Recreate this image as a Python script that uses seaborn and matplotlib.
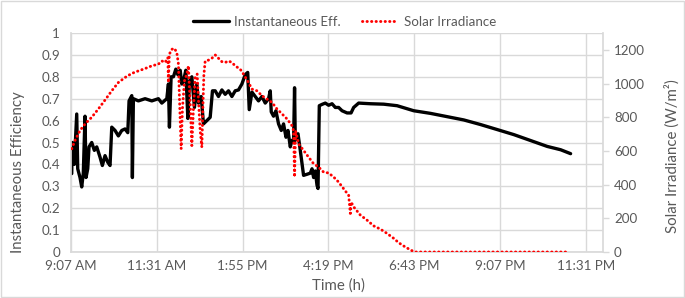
import matplotlib
matplotlib.use("Agg")
import matplotlib.pyplot as plt
import seaborn as sns
import pandas as pd
from matplotlib.patches import Rectangle
from matplotlib.lines import Line2D

# ---- data (time in decimal hours) ----
eff_time = [9.140, 9.156, 9.212, 9.280, 9.308, 9.372, 9.420, 9.464, 9.512, 9.540,
            9.588, 9.624, 9.700, 9.773, 9.840, 9.932, 9.997, 10.072, 10.148, 10.212,
            10.260, 10.352, 10.445, 10.540, 10.632, 10.708, 10.744, 10.820, 10.837, 10.865,
            11.005, 11.192, 11.380, 11.565, 11.660, 11.800, 11.845, 11.873, 11.920, 11.985,
            12.052, 12.108, 12.173, 12.220, 12.265, 12.332, 12.388, 12.433, 12.500, 12.573,
            12.640, 12.685, 12.761, 12.825, 12.920, 13.013, 13.077, 13.153, 13.245, 13.340,
            13.433, 13.525, 13.620, 13.713, 13.805, 13.900, 13.993, 14.063, 14.105, 14.181,
            14.273, 14.365, 14.460, 14.553, 14.645, 14.693, 14.721, 14.785, 14.852, 14.925,
            15.001, 15.065, 15.133, 15.189, 15.253, 15.301, 15.345, 15.373, 15.393, 15.469,
            15.533, 15.625, 15.721, 15.813, 15.861, 15.906, 15.953, 16.001, 16.029, 16.065,
            16.141, 16.233, 16.326, 16.421, 16.513, 16.606, 16.701, 16.841, 16.953, 17.026,
            17.166, 17.493, 17.866, 18.241, 18.706, 19.174, 19.641, 20.106, 20.574, 21.042,
            21.506, 21.974, 22.442, 22.814, 23.094]
eff_value = [0.358, 0.50, 0.40, 0.63, 0.38, 0.34, 0.297, 0.36, 0.62, 0.34,
             0.38, 0.48, 0.50, 0.464, 0.48, 0.433, 0.395, 0.44, 0.41, 0.395,
             0.57, 0.555, 0.53, 0.555, 0.562, 0.545, 0.69, 0.714, 0.34, 0.70,
             0.69, 0.70, 0.69, 0.70, 0.68, 0.70, 0.767, 0.57, 0.80, 0.80,
             0.835, 0.81, 0.83, 0.767, 0.78, 0.83, 0.61, 0.78, 0.80, 0.66,
             0.767, 0.68, 0.71, 0.585, 0.60, 0.615, 0.736, 0.736, 0.71, 0.74,
             0.72, 0.736, 0.71, 0.736, 0.74, 0.767, 0.81, 0.82, 0.65, 0.73,
             0.71, 0.69, 0.71, 0.68, 0.70, 0.736, 0.64, 0.62, 0.645, 0.585,
             0.555, 0.585, 0.524, 0.555, 0.48, 0.51, 0.50, 0.75, 0.51, 0.54,
             0.464, 0.35, 0.355, 0.36, 0.38, 0.34, 0.37, 0.305, 0.29, 0.668,
             0.674, 0.68, 0.67, 0.677, 0.66, 0.66, 0.645, 0.635, 0.635, 0.66,
             0.68, 0.677, 0.675, 0.668, 0.645, 0.633, 0.618, 0.603, 0.582, 0.559,
             0.536, 0.509, 0.482, 0.467, 0.449]

irr_time = [9.140, 9.232, 9.372, 9.512, 9.700, 9.885, 10.072, 10.260, 10.445, 10.632,
            10.820, 11.005, 11.192, 11.380, 11.565, 11.660, 11.752, 11.828, 11.845, 11.870,
            11.940, 12.013, 12.080, 12.125, 12.153, 12.201, 12.237, 12.293, 12.360, 12.405,
            12.453, 12.500, 12.545, 12.593, 12.649, 12.691, 12.733, 12.780, 12.808, 12.836,
            12.873, 12.965, 13.060, 13.153, 13.245, 13.340, 13.433, 13.525, 13.620, 13.713,
            13.853, 13.945, 14.085, 14.181, 14.321, 14.460, 14.600, 14.741, 14.881, 15.021,
            15.161, 15.301, 15.345, 15.373, 15.401, 15.485, 15.625, 15.765, 15.906, 16.046,
            16.186, 16.326, 16.466, 16.606, 16.793, 16.886, 16.933, 16.953, 17.026, 17.213,
            17.401, 17.586, 17.773, 17.961, 18.146, 18.286, 18.446, 18.633, 18.753, 23.066]
irr_value = [613, 662, 721, 760, 800, 849, 902, 957, 1006, 1036,
             1060, 1075, 1089, 1105, 1115, 1134, 1125, 1154, 1006, 1174,
             1203, 1209, 1183, 1115, 918, 613, 850, 1016, 1056, 1105,
             880, 632, 850, 1036, 1056, 880, 720, 622, 850, 1050,
             1134, 1139, 1150, 1170, 1150, 1130, 1125, 1134, 1125, 1105,
             1085, 1056, 1006, 967, 957, 928, 908, 888, 849, 820,
             790, 750, 720, 445, 720, 642, 603, 563, 524, 504,
             474, 469, 445, 415, 362, 337, 229, 297, 268, 219,
             189, 155, 136, 110, 81, 55, 33, 10, 0, 0]

x_ticks = [9.12, 11.52, 13.92, 16.32, 18.72, 21.12, 23.52]
x_tick_labels = ["9:07 AM", "11:31 AM", "1:55 PM", "4:19 PM", "6:43 PM", "9:07 PM", "11:31 PM"]
left_ticks = [0, 0.1, 0.2, 0.3, 0.4, 0.5, 0.6, 0.7, 0.8, 0.9, 1]
left_tick_labels = ["0", "0.1", "0.2", "0.3", "0.4", "0.5", "0.6", "0.7", "0.8", "0.9", "1"]
right_ticks = [0, 200, 400, 600, 800, 1000, 1200]

eff_df = pd.DataFrame({"time": eff_time, "eff": eff_value})
irr_df = pd.DataFrame({"time": irr_time, "irr": irr_value})

sns.set_theme(style="white")
plt.rcParams["font.family"] = ["Lato", "DejaVu Sans"]
TXT = "#595959"
GRID = "#d9d9d9"
DOT = (0, (0.1, 1.45))

fig = plt.figure(figsize=(6.85, 2.98), dpi=100)
ax = fig.add_axes([71/685, 1-252/298, 532/685, 219/298])
ax2 = ax.twinx()

sns.lineplot(data=eff_df, x="time", y="eff", ax=ax, color="black", lw=2.4,
             sort=False, estimator=None, legend=False)
sns.lineplot(data=irr_df, x="time", y="irr", ax=ax2, color="#ff0000", lw=2.1,
             sort=False, estimator=None, legend=False)
ax2.lines[0].set_linestyle(DOT)
ax2.lines[0].set_dash_capstyle("round")

ax.set_xlim(9.12, 24.0)
ax.set_ylim(0, 1)
ax2.set_ylim(0, 1300)
ax.set_xticks(x_ticks)
ax.set_xticklabels(x_tick_labels)
ax.set_yticks(left_ticks)
ax.set_yticklabels(left_tick_labels)
ax2.set_yticks(right_ticks)
ax2.set_yticklabels([str(v) for v in right_ticks])

ax.grid(True, color=GRID, lw=1.0)
ax.set_axisbelow(True)
for a in (ax, ax2):
    for s in a.spines.values():
        s.set_visible(False)
ax.spines["left"].set_visible(True)
ax.spines["left"].set_color(GRID)
ax.spines["bottom"].set_visible(True)
ax.spines["bottom"].set_color(GRID)
ax2.spines["right"].set_visible(True)
ax2.spines["right"].set_color(GRID)

ax.tick_params(axis="both", length=0, labelsize=9.6, colors=TXT)
ax.tick_params(axis="y", pad=8)
ax.tick_params(axis="x", pad=6)
ax2.tick_params(axis="y", length=4, width=1, color=GRID, labelsize=9.6,
                labelcolor=TXT, pad=4, direction="out")

ax.set_xlabel("Time (h)", fontsize=10.8, color=TXT, va="center", ha="center")
ax.xaxis.set_label_coords(0.502, -0.155)
ax.set_ylabel("Instantaneous Efficiency", fontsize=10.8, color=TXT, va="center", ha="center")
ax.yaxis.set_label_coords(-0.10, 0.363)
ax2.set_ylabel("Solar Irradiance (W/m²)", fontsize=10.8, color=TXT, rotation=90,
               va="center", ha="center")
ax2.yaxis.set_label_coords(1.129, 0.436)

leg_black = Line2D([0], [0], color="black", lw=2.4)
leg_red = Line2D([0], [0], color="#ff0000", lw=2.1, linestyle=DOT, dash_capstyle="round")
fig.legend([leg_black, leg_red], ["Instantaneous Eff.", "Solar Irradiance"], loc="center",
           bbox_to_anchor=(0.503, 0.927), ncol=2, frameon=False, fontsize=9.6,
           labelcolor=TXT, handlelength=2.7, columnspacing=1.6, handletextpad=0.4)

fig.patches.append(Rectangle((0.002, 0.004), 0.996, 0.992, transform=fig.transFigure,
                             fill=False, edgecolor=GRID, lw=1.0))

fig.savefig("out.png", dpi=100)
